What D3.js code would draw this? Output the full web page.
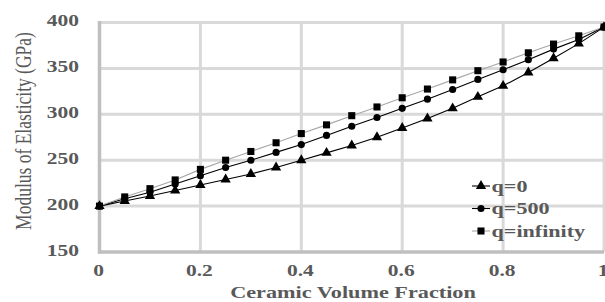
<!DOCTYPE html>
<html><head><meta charset="utf-8">
<script src="https://cdn.jsdelivr.net/npm/d3@7"></script>
<style>html,body{margin:0;padding:0;background:#fff;}svg{display:block;}</style>
</head><body>
<svg id="c" width="605" height="302"></svg>
<script>
const fractions = [0,0.05,0.1,0.15,0.2,0.25,0.3,0.35,0.4,0.45,0.5,0.55,0.6,0.65,0.7,0.75,0.8,0.85,0.9,0.95,1];
const q0   = [200,205.5,211,217,223,229,235,242,250,258,266,275,285,295.5,306.5,319,331,345.5,361,377,395];
const q500 = [200,208,215,224,233,242,250,258.5,267,277,287,296.5,306.5,316.5,327,338,348.5,359.5,371,381.5,395];
const qInf = [200,210,219,228.5,240,250,259.5,269,279,288.5,298.5,308,318,327.5,337.5,347.5,357,367,376.5,385.5,395];
const seriesNames = ["q=0","q=500","q=infinity"];
const xTicks = [0,0.2,0.4,0.6,0.8,1];
const xTickLabels = ["0","0.2","0.4","0.6","0.8","1"];
const yTicks = [150,200,250,300,350,400];
const yTickLabels = ["150","200","250","300","350","400"];
const xTitle = "Ceramic Volume Fraction";
const yTitle = "Modulus of Elasticity (GPa)";

const svg = d3.select("#c");
const SX = 1.34;
const x = d3.scaleLinear().domain([0,1]).range([99.5,604]);
const y = d3.scaleLinear().domain([150,400]).range([252,22.5]);
const serif = "'Liberation Serif','Times New Roman',serif";
const grey = "#595959";
function boldText(sel, fs){
  return sel.attr("font-family",serif).attr("font-weight","bold")
    .attr("font-size",fs||16).attr("fill",grey);
}

// gridlines
svg.append("g").selectAll("line").data(yTicks.filter(d=>d>150)).join("line")
  .attr("x1",x(0)).attr("x2",x(1)).attr("y1",d=>y(d)).attr("y2",d=>y(d))
  .attr("stroke","#d9d9d9").attr("stroke-width",3);
svg.append("g").selectAll("line").data(xTicks.filter(d=>d>0)).join("line")
  .attr("x1",d=>x(d)).attr("x2",d=>x(d)).attr("y1",y(150)).attr("y2",y(400))
  .attr("stroke","#d9d9d9").attr("stroke-width",3);
// axis lines
svg.append("line").attr("x1",x(0)).attr("x2",x(0)).attr("y1",y(150)+1.5).attr("y2",y(400)-1.5)
  .attr("stroke","#bfbfbf").attr("stroke-width",3.5);
svg.append("line").attr("x1",x(0)-1.5).attr("x2",x(1)).attr("y1",y(150)).attr("y2",y(150))
  .attr("stroke","#bfbfbf").attr("stroke-width",3.5);

// tick labels
boldText(svg.append("g").selectAll("text").data(yTicks).join("text")
  .attr("transform",d=>`translate(79,${y(d)+3.5}) scale(${SX},1)`)
  .attr("text-anchor","end").text((d,i)=>yTickLabels[i]));
boldText(svg.append("g").selectAll("text").data(xTicks).join("text")
  .attr("transform",d=>`translate(${x(d)-1},275.5) scale(${SX},1)`)
  .attr("text-anchor","middle").text((d,i)=>xTickLabels[i]));

// titles
boldText(svg.append("text").attr("transform",`translate(353,298) scale(${SX},1)`)
  .attr("text-anchor","middle").text(xTitle), 16.6);
svg.append("text").attr("transform",`translate(31,131) scale(${SX},1) rotate(-90)`)
  .attr("text-anchor","middle").attr("font-family",serif)
  .attr("font-size",17.5).attr("fill",grey).text(yTitle);

// series
const data = [q0,q500,qInf];
const lineColors = ["#000000","#000000","#a6a6a6"];
const symbols = [d3.symbolTriangle, d3.symbolCircle, d3.symbolSquare];
const symSizes = [46, 40, 50];
const line = d3.line().x((d,i)=>x(fractions[i])).y(d=>y(d));
data.forEach((vals,k)=>{
  svg.append("path").datum(vals).attr("d",line).attr("fill","none")
    .attr("stroke",lineColors[k]).attr("stroke-width",1.1);
});
data.forEach((vals,k)=>{
  svg.append("g").selectAll("path").data(vals).join("path")
    .attr("transform",(d,i)=>`translate(${x(fractions[i])},${y(d)})`)
    .attr("d",d3.symbol().type(symbols[k]).size(symSizes[k])).attr("fill","#000");
});

// legend
const legY = [186,208.5,231];
seriesNames.forEach((name,k)=>{
  const g = svg.append("g");
  g.append("line").attr("x1",472).attr("x2",490).attr("y1",legY[k]).attr("y2",legY[k])
    .attr("stroke",lineColors[k]).attr("stroke-width",1.1);
  g.append("path").attr("transform",`translate(481,${legY[k]})`)
    .attr("d",d3.symbol().type(symbols[k]).size(symSizes[k])).attr("fill","#000");
  boldText(g.append("text").attr("transform",`translate(491.5,${legY[k]+5.5}) scale(${SX},1)`)
    .text(name), 16.5);
});
</script>
</body></html>
